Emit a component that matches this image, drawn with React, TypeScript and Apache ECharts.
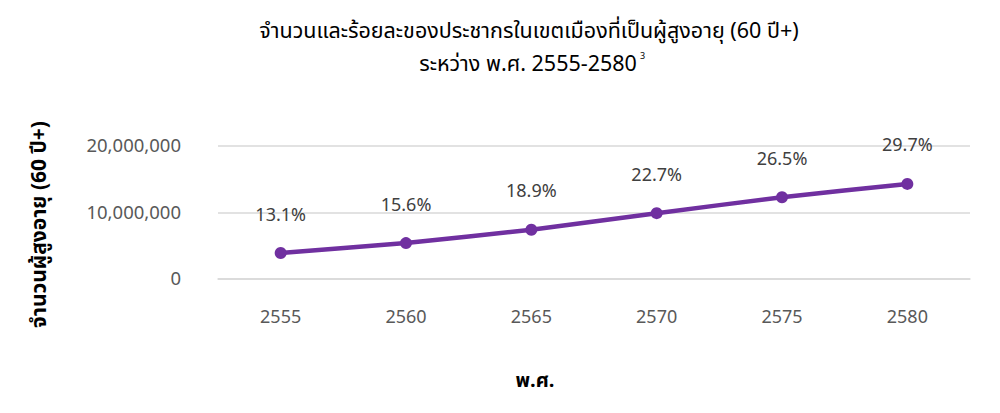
import React, { useEffect, useRef } from "react";
import * as echarts from "echarts";

const years = ["2555", "2560", "2565", "2570", "2575", "2580"];
const elderly = [3900000, 5400000, 7400000, 9900000, 12300000, 14300000];
const percents = ["13.1%", "15.6%", "18.9%", "22.7%", "26.5%", "29.7%"];
const yTicks = [0, 10000000, 20000000];

const FONT = "'Noto Sans Thai', 'Noto Sans', 'DejaVu Sans', sans-serif";
const titleStyle = { fontFamily: FONT, fontSize: 21.5, fontWeight: "normal", color: "#000" };

export default function App() {
  const ref = useRef<HTMLDivElement>(null);
  useEffect(() => {
    document.body.style.margin = "0";
    const chart = echarts.init(ref.current!, null, { renderer: "svg" });
    chart.setOption({
      animation: false,
      backgroundColor: "#ffffff",
      title: [
        {
          text: "จำนวนและร้อยละของประชากรในเขตเมืองที่เป็นผู้สูงอายุ (60 ปี+)",
          left: 529,
          top: 20,
          textAlign: "center",
          padding: 0,
          textStyle: titleStyle,
        },
        {
          text: "ระหว่าง พ.ศ. 2555-2580",
          left: 528,
          top: 53,
          textAlign: "center",
          padding: 0,
          textStyle: titleStyle,
        },
        {
          text: "3",
          left: 640,
          top: 51,
          padding: 0,
          textStyle: { fontFamily: FONT, fontSize: 9, fontWeight: "normal", color: "#000" },
        },
      ],
      grid: { left: 218, right: 30, top: 146, bottom: 134 },
      xAxis: {
        type: "category",
        data: years,
        boundaryGap: true,
        axisLine: { show: true, lineStyle: { color: "#d9d9d9", width: 1.5 } },
        axisTick: { show: false },
        axisLabel: { color: "#595959", fontSize: 18, margin: 29, fontFamily: FONT },
        name: "พ.ศ.",
        nameLocation: "middle",
        nameGap: 92,
        nameTextStyle: { fontFamily: FONT, fontSize: 20, fontWeight: "bold", color: "#000", padding: [0, 118, 0, 0] },
      },
      yAxis: {
        type: "value",
        min: yTicks[0],
        max: yTicks[yTicks.length - 1],
        interval: yTicks[1] - yTicks[0],
        axisLine: { show: false },
        axisTick: { show: false },
        splitLine: { lineStyle: { color: "#d9d9d9", width: 1.5 } },
        axisLabel: {
          color: "#595959",
          fontSize: 18.5,
          margin: 37,
          fontFamily: FONT,
          formatter: (v: number) => v.toLocaleString("en-US"),
        },
        name: "จำนวนผู้สูงอายุ (60 ปี+)",
        nameLocation: "middle",
        nameRotate: 90,
        nameGap: 168,
        nameTextStyle: { fontFamily: FONT, fontSize: 21, fontWeight: "bold", color: "#000", padding: [0, 24, 0, 0] },
      },
      series: [
        {
          type: "line",
          data: elderly,
          smooth: 0.1,
          symbol: "circle",
          symbolSize: 12,
          itemStyle: { color: "#7030A0" },
          lineStyle: { color: "#7030A0", width: 4.5 },
          label: {
            show: true,
            position: "top",
            distance: 23,
            color: "#404040",
            fontSize: 18,
            fontFamily: FONT,
            formatter: (p: any) => percents[p.dataIndex],
          },
        },
      ],
    });
    return () => chart.dispose();
  }, []);
  return <div ref={ref} style={{ width: 1000, height: 413 }} />;
}
